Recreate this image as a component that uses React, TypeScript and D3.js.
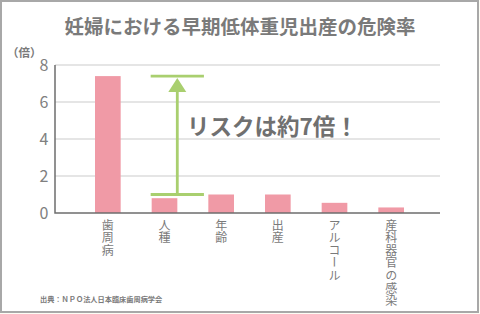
import React from "react";
import * as d3 from "d3";

const categories = ["歯周病", "人種", "年齢", "出産", "アルコール", "産科器官の感染"];
const values = [7.4, 0.8, 1.0, 1.0, 0.55, 0.3];
const yTicks = [0, 2, 4, 6, 8];
const title = "妊婦における早期低体重児出産の危険率";
const unitLabel = "（倍）";
const annotationText = "リスクは約7倍！";
const annotationFrom = 1.0;
const annotationTo = 7.4;
const annotationCategory = "人種";
const sourceText = "出典：ＮＰＯ法人日本臨床歯周病学会";

const W = 480;
const H = 314;
const FONT = "'Noto Sans CJK JP', 'Noto Sans', sans-serif";
const GRAY = "#7a7a7a";
const PINK = "#f09aa6";
const GREEN = "#a9cf6f";

export default function App() {
  const plotLeft = 55;
  const plotRight = 440;
  const y = d3.scaleLinear().domain([0, 8]).range([213, 65]);
  const x = d3
    .scaleBand<string>()
    .domain(categories)
    .range([64, 435])
    .paddingInner(0.547)
    .paddingOuter(0.547);

  const ax0 = (x(annotationCategory) ?? 0) - 1;
  const ax1 = ax0 + x.step() * 0.94;
  const axm = (ax0 + ax1) / 2;
  const yTop = y(annotationTo);
  const yBot = y(annotationFrom);

  return (
    <svg
      width={W}
      height={H}
      style={{ position: "absolute", left: 0, top: 0, background: "#fff" }}
      fontFamily={FONT}
    >
      <rect x={0} y={0} width={W} height={H} fill="#fdfdf5" />
      <rect x={1} y={1} width={477} height={311} fill="#fff" stroke="#a8a8a8" strokeWidth={2} />
      <text x={240} y={34} textAnchor="middle" fontSize={19.5} fontWeight="bold" fill={GRAY}>
        {title}
      </text>
      <text x={7} y={57} fontSize={11.5} fontWeight="bold" fill={GRAY}>
        {unitLabel}
      </text>
      {yTicks.map((t) => (
        <g key={t}>
          {t > 0 && (
            <line x1={plotLeft} x2={plotRight} y1={y(t)} y2={y(t)} stroke="#dcdcdc" strokeWidth={1.5} />
          )}
          <text x={44} y={y(t)} dy="0.36em" textAnchor="middle" fontSize={16} fill="#808080">
            {t}
          </text>
        </g>
      ))}
      {categories.map((c, i) => (
        <rect
          key={c}
          x={x(c)}
          y={y(values[i])}
          width={x.bandwidth()}
          height={y(0) - y(values[i])}
          fill={PINK}
        />
      ))}
      <path
        d={`M${plotLeft},${y(8)}V${y(0)}H${plotRight}`}
        fill="none"
        stroke="#6e6e6e"
        strokeWidth={1.5}
      />
      {categories.map((c) => (
        <text
          key={c}
          x={(x(c) ?? 0) + x.bandwidth() / 2}
          y={219}
          fontSize={12}
          fill={GRAY}
          style={{ writingMode: "vertical-rl", letterSpacing: "0.6px" }}
        >
          {c}
        </text>
      ))}
      <g stroke={GREEN} strokeWidth={2.8} fill="none">
        <line x1={ax0} x2={ax1} y1={yTop} y2={yTop} />
        <line x1={ax0} x2={ax1} y1={yBot} y2={yBot} />
        <line x1={axm} x2={axm} y1={yTop + 10} y2={yBot} />
      </g>
      <path d={`M${axm},${yTop + 2}L${axm + 9},${yTop + 16}L${axm - 9},${yTop + 16}Z`} fill={GREEN} />
      <text x={187} y={127} dy="0.36em" fontSize={22.5} fontWeight="bold" fill="#707070">
        {annotationText}
      </text>
      <text x={40} y={302} fontSize={7.2} fontWeight="bold" fill={GRAY}>
        {sourceText}
      </text>
    </svg>
  );
}
